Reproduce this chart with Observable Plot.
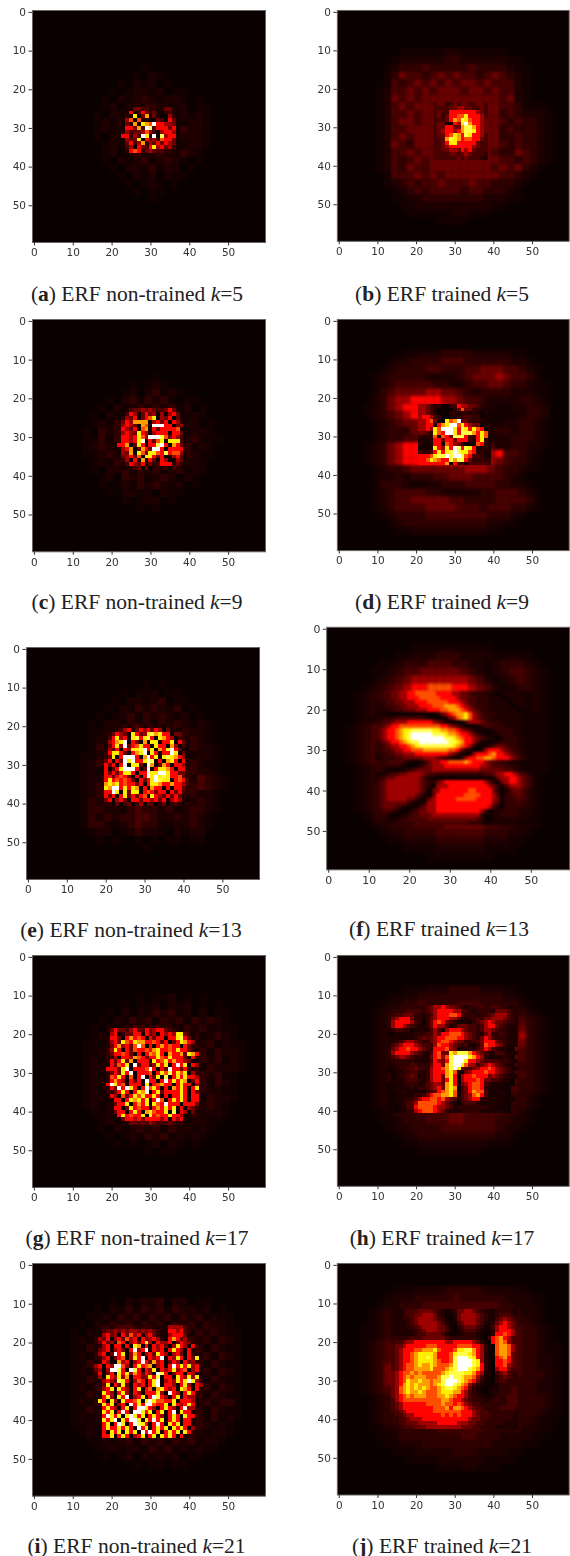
<!DOCTYPE html>
<html><head><meta charset="utf-8">
<script src="https://cdn.jsdelivr.net/npm/d3@7"></script>
<script src="https://cdn.jsdelivr.net/npm/@observablehq/plot@0.6"></script>
<style>
html,body{margin:0;padding:0;background:#fff;width:570px;height:1556px;overflow:hidden;position:relative}
.p{position:absolute}
.c{position:absolute;font-family:"Liberation Serif",serif;font-size:21.5px;color:#222;white-space:nowrap;transform:translateX(-50%);line-height:1}
svg{filter:blur(.35px)}
</style></head><body>
<script>
// Estimated magnitude levels, one character per block.
const levelChars = "0123456789abc";
const levelValues = [0,.015,.03,.055,.09,.14,.22,.37,.48,.6,.72,.82,1];
const xyTicks = [0,10,20,30,40,50];

// ---- (a)
const coarseA = [
"0000000010000000000","0000000102100000000","0000010212010000000","0000101221201100000","0001021232122101000","0001202312321201100",
"0010221323123212100","0012132312323122100","0012123323132322100","0010223132321222100","0001213323123122100","0001202313212321000",
"0001021231232101000","0000102213122010000","0000010212021100000","0000001012101000000","0000000101100000000","0000000001000000000"];
const fineA = ["000222333222112","112554423225521","127047535213421","130a15915200631","168182300540751","15391a98c776651","177594cb4777571","264556864067761",
"77364ca2c0b6771","1655a0756487751","157469365757651","14607547a675641","137873565443321","112332222332221"];
// ---- (b)
const coarseB = [
"000011111122111111000000","000122222233222222110000","001233343333343333211000","001354434545443454321000","001434545454554544421000","012445454555455454421000",
"012545455555555554521000","012454555556565554431110","012445455566665553432221","012455455566665554343321","012445555566665553433321","012454555566665553343321",
"012543555566665554343321","012445455555555543354321","012434545555555554434321","012435445555555545453210","001444545455555554432100","001234344544454433321000",
"000123434444344333210000","000112233333333222110000","000011222222222211000000","000001111112211100000000","000000000111100000000000"];
const fineB = ["45534545544554","44445566554454","45447777777654","45357788a77764","4445798ba87765","4550076ac97765","45577559bb9765","45677679bba765","45578a97ba7764",
"4459ba97887754","4457aa77777544","44567777776544","44556657675444","44445545654443","44444454544432"];
// ---- (c)
const coarseC = [
"0000000000100000000","0000000101210000000","0000001202312100000","0000102313231011000","0001021232323120100","0010213231323212100",
"0012132313231322010","0103231323132312210","0113132313231323111","0123213132313231210","0112323132323132110","0012132321323122100",
"0010223132312312100","0001203231232021000","0001012132321201000","0000102212021100000","0000001012201000000","0000000010100000000"];
const fineC = ["002455656544575200","014760575606067510","036570578a06570520","057699990675707631","067650980ccc770562","076570890757777820","06765a760677707750",
"07767a86cccb857641","07767ac0758a0aaa41","77905a7077bc709753","267905975cc7077773","16590a85aa87b78862","0567580aa757006741","036070907507600651","024765705347773530","012345050232304320"];
// ---- (d)
const coarseD = [
"000001122233332222211000","000122333344433333322100","001233334433344555443210","012333332222345556544310","012344444332234455433211","013455556655432333322211",
"023566777766544322223321","123567777776654321122332","123456777665554311112332","012345566666554211223321","012333555555543223323321","012334456666653222233321",
"123567777776654342233221","123567777777765567443210","123567777777766665433210","012334555555566654332110","012232333445554444321000","013332112233344443322100",
"012344443322222334443210","012344555554433334444310","012344445555444344433210","001233334444444433321000","000123333333333322110000","000011222222222211000000"];
const fineD = ["6654230034766554322","6654200003585533221","6654200033233232021","6776430012334433112","6678500a89c5533300","6677079acc8a7655023","6676a8ccca7ba7a8702","5543a87cca7bbb97a83",
"323282875bbb7437a81","2222775775777427a31","3112770876530028732","2112a76a7cb7ba72232","43347a7abcbaa872322","7778abbcbccb8744321","778a9877b9bb7533333","7777777907430444443"];
// ---- (e)
const coarseE = [
"000000000010100000000","000000010112011000000","000000102212301100000","000001021323213010000","000010123132321201000","000102213231323212100",
"000112132313231322100","000121323132313232100","000132313231323132210","001123231323132312210","001231323132313232110","001213231323123132210",
"001223132313231324321","001231323132313234321","001232313231323132210","001323231323132323210","001332213433231233210","001323233443223232100",
"001332123433112232100","000122012322102122000","000010100101011011000","000000000010000000000"];
const fineE = ["00002232343233231320000","00013467057675760522100","00357650a756ab9a7705500","0047a670ab7ab70a9760430","00679ac075090aa077a0751","0157a6c578a770a77096041","00657076aabc7a097ac7501","007aa75079ac0a7077ca051",
"005a07ccc709c7a0aba9761","057075cac77acb0709a7072","075707c0aa50c9059707762","07057accc705c07aa970773","075757aa7077caacca77553","077578750707cacaba77853","07a7878750757acbaa07874","09a9a78775707aa97797764",
"0a9cc7a7a90709770707753","077ca0a5aa0787577075743","075707a575780a765757532","05706750775776757067621","00305045046054035034310"];
// ---- (f)
const coarseF = [
"000000000000000000000000000","000000000111111111100000000","000000011222333222211111000","000001123334443322123332100","000011234455555432123443210","000012345666666654212343210",
"000123456778887765421233210","001234567888888776543123210","001234566777887765432222210","001234566677787654433222210","001222223333333333333222110","012345678888888765432222110",
"012345678888888765432222110","012345678888888765433222110","012345678888888765433322110","012344566666666666654332110","001234566666666666655432110","001234566666666666655432100",
"001234566666666666654432100","001233455666666666544322100","001233445666666666443322100","001233444556666655443322100","000123444555566655443332100","000012333444455555443322100",
"000001223333444444333221000","000000112222333333222110000","000000001111222222111100000","000000000001111111100000000"];
const fineF = [
"334455667788888777766554333221012222111","334455667778888877776554433322210222211","233445566677788888777654433322221022211","223344556667778889998765433322222102211","222334455566677788999876543322222210111","111000000000000156789 9a86543332222221111".replace(" ",""),
"223334444444320001568 9a8654332222222111".replace(" ",""),"334456667777776542000146665433322222111","445677888888888877654200013443332222111","45677 89aabbbbbaa99887654210012333322111".replace(" ",""),"4567789abcccccbbba998776532101233322111","4567789abccccccccbba9877654321013332211",
"34567789abbcccccccbba977642101233332211","3345667789abbbbbbbba9876210134554332211","33445667788899999988753200267776 5433211".replace(" ",""),"23344556667777777765310067778977 6543211".replace(" ",""),"223334455555666543210367788998777654321","333444431001356677888898777654433221111",
"333333210013456667777777776654443322111","332000123455556666666666665555554432111","112344556666544333333333333445667765432","234556666665320000000000000102566776543","345666666665432567777777777642056776543","345666666665420666777777777765304666543",
"345666666665405677777778877775302455432","345666666654205777777788887776403445432","345666665532056777778888877776503344432","345555553201366777777777777775403334332","345554320024566777777777777764203333322","334432001345566777777777776401233332 22".replace(" ",""),
"333210123445556666666666663012233332 22".replace(" ",""),"332212334444455555555555543001222222211","222223333344444444444443332112222221111"];
// ---- (g)
const coarseG = [
"000000000000000000000000","000000000101120101000000","000000010112021201010000","000001020213231202011000","000010213231323132321000","000102132313231323121100",
"000121323132313231232100","001112313231323132312110","001123132313231323132210","001213231323132313231210","001221323132313231322210","001213231323132313231100",
"001223132313231323132100","001213231323132313221100","001221323132313231322100","001212313231323132321000","000112133231323132221000","000012123132313122110000",
"000010212323132212100000","000001012132312121000000","000000101012021010000000","000000000010110000000000"];
const fineG = [
"0000013243423343331200000","0057554675475677543210000","0067035577075607676aa5310","0077507978707577077ab7520","00675a87a99778757057a9761","0057967 58c8070797877075".replace(" ",""),"006a7075877879a7787a77531","00577875070798a7097795a97",
"00060776987577a87a7775072","00757a5907770a78a7977651","007587a0c57706a7a07c7a076","07775ac07778c7075c7757420","00575a7c0777807a8b7a8a063","0087a70807c075a0b07a7a776","00797607570c7707c7a7a9057","07ca7807770a07897707a7706",
"0075c7ca707c8a707097a707a","00057a707a9c07a57777a7075","00760857a8a77a707077a7077","0007707a9a7a07c807a7a7077","000577a0797a0a87c77707775","0007705a78770797a7a070650","00057707a709a877a0b076051","00007a7877a0a7877a77600","000005776757777670767000","000000055454654445430000"];
// ---- (h)
const coarseH = [
"000001112223333222110000","000112233333333333221000","001223343333444333332100","012333344445544443333210","012334555666665444344321","012344566666544444445321",
"012345566655554445556321","012345666666654445665321","012345666666654555554321","012344556666665556654321","012343454566665554543321","012333445666665555544321",
"012333434456665555543321","012343334566654454443321","012334445555544444333210","012233444444444444433210","001233344445544444332100","001123334445544443322100",
"000122333344444443221000","000012233333333332210000","000001122222222211100000","000000011111111000000000"];
const fineH = [
"222333333345667655432333433443322","2333344443456777766443233332555432","3344555332346777887433323345666432","3567775331356777664323343556665432","3677776431357875431021345676554332","3677654322357664235554434677543222",
"2344331222246426777654434665433222","1122222333446577888765432563343222","2221122345456778887765435764333222","2234566543356788765533445777543222","2456777654436877654342135877653222","3567787765437778651223245764322110",
"3677776543247855a9bbb9765432443221","3456654332257868bcccca97632122321","2333333222247657bccca7765444433321","2233334433357759bcca8664567654322","1223344543367789bca544567787654321","1122334432367779a8205677787765432",
"0123345422367759a70677877756543221","0122344432367757a7067778755443221","1222333323456659a7056788743222111","1122223233456759a9045788732121110","1122322221345789a8045798842122110","1112222334578899a8145689742111210","1122233467788786542456773322221110","1112344688888765320344432222221100","1112244788887665423333333322111100","1112233678887653222333332222221100"];
// ---- (i)
const coarseI = [
"000000102122302201100000","000010213132313221201000","000112132313231323121100","001021323132313231322100","010213231323132313232110","012132313231323132313210",
"011323132313231323132110","012132313231323132313210","011323132313231323132110","012132313231323132313210","011323132313231323132110","012132313231323132313210",
"011323132313231323132110","012132313231323132323310","011323132313231323132110","012123132313231323131210","011213231323132313212100","001212313231323132122100",
"000112123132313231221000","000011212213231212110000","000001012021212011000000","000000000101101100000000"];
const fineI = [
"00033234444323332222666643000","00045565656656565322776743000","00067560758670675321677750000","00657067586707567630797560000","00575608706757a60766705765000","00067077070a9070767506a760700","00567067507c67c076707a76070","006705c7a06970675a7606750700",
"00067057806a7c0767c076a7075a0","0007600967067c759670576075600","067076cc8607a78906707c7a7a670","05606ccb70cb7076a0767a6780670","0070570a7a6975760cb705770760","0060a76a6907756a7b0770a76a6a0","0006765ba7068707ac0676a7aca6","0005a075a5076707ac077607a6076",
"00067a0a7607a07809a7670a97070","000a7607a60760777a60c7607a70","0007a60a7c067a07cb7607a07660","00a70a60a778a0aca887 7a077760".replace(" ",""),"000a7a0670c7a7cc877a0a767a70","0007a7607a07cca7607a7607c660","000a7a07c70cca7a07a07c0a7700","0007ca7a0aca7a07a7607a70a770",
"000a7ac0a7cca0a7c7a07a707700","0007a07ca07cba707c70a7a07700","0007a77a7a70c7a07a7a0a7a70600","00070a7a0a7a0c7c7a07a7a0a700","00077a07a7067a07a0a7a70700"];
// ---- (j)
const coarseJ = [
"000011122223333322221100000","000122233333433333322211000","001223334444444444332221000","012333443444455544433221000","012334434555455555443321000","112344555555555555554332100",
"112345566666555665554332100","123456666666666665554332110","123456666666666665654332110","123456666666666666654332210","123566666666666666654332210","123566666666666666554333210",
"123566666666666665443332210","123456666666666654433332210","012345666666665554433333210","012344566666665544433333210","012334555555555444433332110","012333444445444444333321100",
"001223333344444433333221100","001123333333344333222211000","000112223333333332222110000","000011122222333222211000000","000000111122222211110000000","000000000011122111000000000"];
const fineJ = [
"222344455554321235566543222333322","222344556665321125666654322344432","222334566665431025666654322456543","222234566666542014566654223567654","222233456666553103455543124677654","222222345666554202344432113677764",
"222222344555542012233321013778764","33333444555555433333332104789764","34456677777777667777765310789864","455677777888777778888776310899864","45677788999a87778aabb976310899864","4567789aaaa97778abbba976210899854",
"4567789aaba97778bcccba76210789754","4567789aaaa98778bccccba6310778754","4567889a99a98889bccccba7310778654","4567889999a8889abcccba97310677544","56788989888889abbbbaa976210456433","5678989998889bbcbba99864110345432",
"5678a99a99899bcccba98753110344333","5679a9a99989abccba986432101233333","5689a9a9a9889abba9875321012233344","5689a99a98889aaa99764321012233344","56789899988899a987764332112333444","467888888888899877654333223333444",
"456777777888898878765443333333444","456777777778889799876544333344443","445677777778888888777654433333332","344566777777787878777654443333332","334456667777777777776554433333322","334455566666777776665544333332222","233444555666666666555443333222221"];

const layer = (rows, top, left, step) => {
  const out = [];
  rows.forEach((row, r) => {
    const chars = [...row];
    let a = 0, b = chars.length - 1;
    while (a < b && chars[a] === "0") a++;
    while (b > a && chars[b] === "0") b--;
    for (let c = a; c <= b; c++) {
      const v = levelValues[levelChars.indexOf(chars[c])];
      out.push({x1: left + c*step - .5, x2: left + (c+1)*step - .5, y1: top + r*step - .5, y2: top + (r+1)*step - .5, v});
    }
  });
  return out;
};

const panels = [
 {tag:"a",text:"ERF non-trained ",k:"5", fx:32,fy:10,w:233,h:232,cx:137,by:301,coarse:[coarseA,14,12],fine:[fineA,24,23],soft:.7},
 {tag:"b",text:"ERF trained ",k:"5", fx:337.3,fy:10,w:233,h:232,cx:442,by:301,coarse:[coarseB,10,8],fine:[fineB,24,25],soft:1.0,fineSoft:.6},
 {tag:"c",text:"ERF non-trained ",k:"9", fx:32,fy:318.7,w:233,h:232.3,cx:137,by:609,coarse:[coarseC,14,11],fine:[fineC,23,22],soft:.7},
 {tag:"d",text:"ERF trained ",k:"9", fx:337.3,fy:318.7,w:233,h:232.3,cx:442,by:609,coarse:[coarseD,8,7],fine:[fineD,22,21],soft:1.6,fineSoft:.6},
 {tag:"e",text:"ERF non-trained ",k:"13", fx:25.7,fy:646.7,w:233.3,h:232,cx:131,by:937,coarse:[coarseE,9,10],fine:[fineE,20,19],soft:.7},
 {tag:"f",text:"ERF trained ",k:"13", fx:326.7,fy:627.3,w:250,h:249.4,cx:439,by:936,coarse:[coarseF,2,3],fine:[fineF,16,12],soft:1.8,fineSoft:.9,fs:11.2},
 {tag:"g",text:"ERF non-trained ",k:"17", fx:32,fy:955.3,w:233,h:232,cx:137,by:1245,coarse:[coarseG,8,9],fine:[fineG,18,18],soft:.7},
 {tag:"h",text:"ERF trained ",k:"17", fx:337.3,fy:955.3,w:233,h:232,cx:442,by:1245,coarse:[coarseH,8,7],fine:[fineH,13,13],soft:1.5,fineSoft:.6},
 {tag:"i",text:"ERF non-trained ",k:"21", fx:32,fy:1263.3,w:233,h:232.7,cx:136.5,by:1553,coarse:[coarseI,9,8],fine:[fineI,16,15],soft:.7},
 {tag:"j",text:"ERF trained ",k:"21", fx:337.3,fy:1263.3,w:233,h:232.7,cx:442,by:1553,coarse:[coarseJ,6,6],fine:[fineJ,12,14],soft:1.6,fineSoft:.8}
];

for (const p of panels) {
  const fs = p.fs || 10.5;
  const chart = Plot.plot({
    width:p.w+31, height:p.h+30, marginLeft:30, marginRight:1, marginTop:8, marginBottom:22,
    style:{background:"transparent",overflow:"hidden"},
    x:{domain:[-.5,59.5]},
    y:{domain:[59.5,-.5]},
    color:{type:"linear",domain:[0,.365,.746,1],range:["#0b0000","#ff0000","#ffff00","#ffffff"]},
    marks:[
      Plot.frame({fill:"#0b0000"}),
      Plot.rect(layer(p.coarse[0],p.coarse[1],p.coarse[2],2),{x1:"x1",x2:"x2",y1:"y1",y2:"y2",fill:"v",clip:true,imageFilter:`blur(${p.soft}px)`}),
      Plot.rect(layer(p.fine[0],p.fine[1],p.fine[2],1),{x1:"x1",x2:"x2",y1:"y1",y2:"y2",fill:"v",clip:true,shapeRendering:"crispEdges",imageFilter:`blur(${p.fineSoft||.45}px)`}),
      Plot.frame({stroke:"#666",strokeWidth:1}),
      Plot.axisX({anchor:"bottom",ticks:xyTicks,tickSize:3.5,tickPadding:3,label:null,stroke:"#333",fill:"#333"}),
      Plot.axisY({anchor:"left",ticks:xyTicks,tickSize:3.5,tickPadding:3,label:null,stroke:"#333",fill:"#333"})
    ]
  });
  chart.querySelectorAll("text").forEach(t => {
    t.style.fontFamily = "'DejaVu Sans',sans-serif";
    t.style.fontSize = fs + "px";
  });
  const d = document.createElement("div");
  d.className = "p";
  d.style.left = (p.fx-30)+"px";
  d.style.top = (p.fy-8)+"px";
  d.appendChild(chart);
  document.body.appendChild(d);
  const c = document.createElement("div");
  c.className = "c";
  c.style.left = p.cx+"px";
  c.style.top = (p.by-17)+"px";
  c.innerHTML = `(<b>${p.tag}</b>) ${p.text}<i>k</i>=${p.k}`;
  document.body.appendChild(c);
}
</script>
</body></html>
